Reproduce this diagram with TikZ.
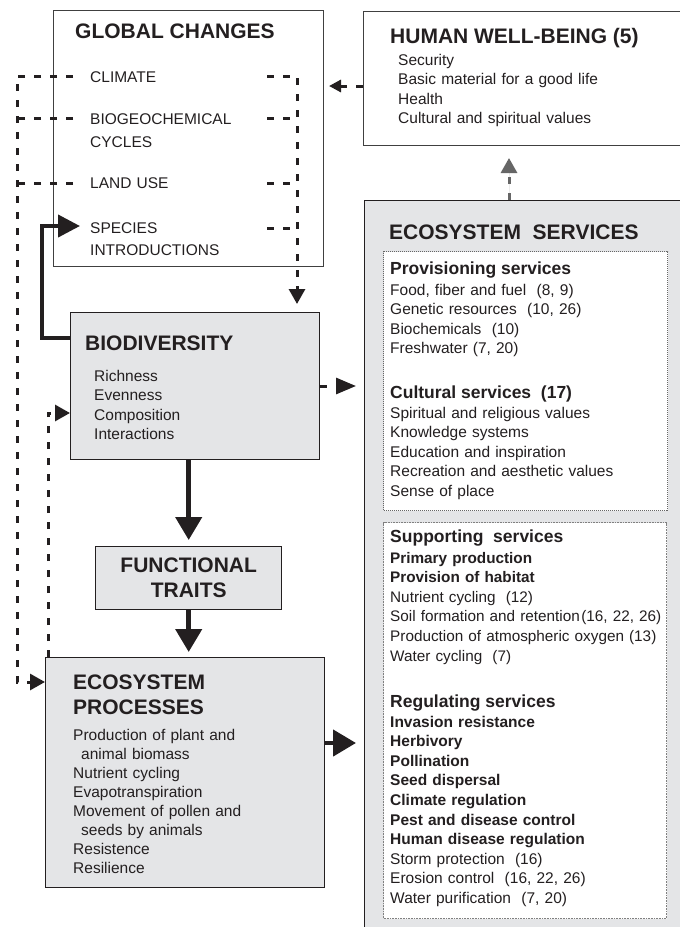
\documentclass[tikz,border=0pt]{standalone}
\usepackage{fontspec}
\setmainfont{Liberation Sans}
\usepackage{xcolor}
\usetikzlibrary{arrows.meta}
\definecolor{boxgray}{HTML}{E4E5E7}
\definecolor{ink}{HTML}{231F20}
\newcommand{\bt}[1]{{\bfseries #1}}

\begin{document}
\begin{tikzpicture}[x=1pt,y=-1pt]
  \tikzset{box/.style={rectangle,draw=black!75,line width=1pt,anchor=north west,inner sep=0pt}}
  \tikzset{shade/.style={box,draw=ink,fill=boxgray,line width=1.4pt}}
  \tikzset{head/.style={anchor=base west,inner sep=0pt,text=ink,font=\fontsize{21}{25}\selectfont\bfseries}}
  \tikzset{sub/.style={anchor=base west,inner sep=0pt,text=ink,font=\fontsize{17.5}{21}\selectfont\bfseries}}
  \tikzset{txt/.style={anchor=base west,inner sep=0pt,align=left,text width=285pt,text=ink,font=\fontsize{15.5}{19.6}\selectfont}}
  \tikzset{dline/.style={draw=ink,line width=3pt,dash pattern=on 7pt off 9pt}}
  \tikzset{dasharrow/.style={dline,-{Triangle[length=15pt,width=16pt]}}}
  \tikzset{bigarrow/.style={draw=ink,line width=4.5pt,-{Triangle[length=23pt,width=26pt]}}}
  \tikzset{grayarrow/.style={dasharrow,draw=black!60,fill=black!60}}

  \useasboundingbox (0,0) rectangle (680,927);

  \node[box,minimum width=270pt,minimum height=256pt] (gc) at (53,10) {};
  \node[box,minimum width=325pt,minimum height=134pt] (hwb) at (363,11) {};
  \node[shade,minimum width=330pt,minimum height=740pt] (es) at (364,200) {};
  \node[box,fill=white,draw=black!60,densely dotted,minimum width=284pt,minimum height=259pt] (prov) at (383,251) {};
  \node[box,fill=white,draw=black!50,dash pattern=on 1pt off 0.6pt,minimum width=283pt,minimum height=396pt] (supp) at (383,522) {};
  \node[shade,minimum width=249pt,minimum height=147pt] (bd) at (70,312) {};
  \node[shade,minimum width=186pt,minimum height=63pt] (ft) at (95,546) {};
  \node[shade,minimum width=279pt,minimum height=230pt] (ep) at (45,657) {};

  \node[head] (gchead) at (75,38) {GLOBAL CHANGES};
  \node[txt] (gcclim) at (90,82) {CLIMATE};
  \node[txt,font=\fontsize{15.5}{23}\selectfont] (gcbio) at (90,124) {BIOGEOCHEMICAL\\CYCLES};
  \node[txt] (gcland) at (90,188) {LAND USE};
  \node[txt,font=\fontsize{15.5}{22}\selectfont] (gcspec) at (90,233) {SPECIES\\INTRODUCTIONS};

  \node[head] (hwbhead) at (390,43) {HUMAN WELL-BEING (5)};
  \node[txt] (hwbtxt) at (398,65) {Security\\Basic material for a good life\\Health\\Cultural and spiritual values};

  \node[head] (eshead) at (389,239) {ECOSYSTEM\ \ SERVICES};
  \node[sub] (provhead) at (390,274) {Provisioning services};
  \node[txt] (provtxt) at (390,295) {Food, fiber and fuel\ \ (8, 9)\\Genetic resources\ \ (10, 26)\\Biochemicals\ \ (10)\\Freshwater (7, 20)};
  \node[sub] (culthead) at (390,398) {Cultural services\ \ (17)};
  \node[txt] (culttxt) at (390,418) {Spiritual and religious values\\Knowledge systems\\Education and inspiration\\Recreation and aesthetic values\\Sense of place};
  \node[sub] (supphead) at (390,542) {Supporting\ \ services};
  \node[txt,font=\fontsize{15.3}{19.6}\selectfont] (supptxt) at (390,563) {\bt{Primary production}\\\bt{Provision of habitat}\\Nutrient cycling\ \ (12)\\Soil formation and retention\hspace{1.5pt}(16, 22, 26)\\Production of atmospheric oxygen (13)\\Water cycling\ \ (7)};
  \node[sub] (reghead) at (390,707) {Regulating services};
  \node[txt] (regtxt) at (390,727) {\bt{Invasion resistance}\\\bt{Herbivory}\\\bt{Pollination}\\\bt{Seed dispersal}\\\bt{Climate regulation}\\\bt{Pest and disease control}\\\bt{Human disease regulation}\\Storm protection\ \ (16)\\Erosion control\ \ (16, 22, 26)\\Water purification\ \ (7, 20)};

  \node[head] (bdhead) at (85,350) {BIODIVERSITY};
  \node[txt] (bdtxt) at (94,381) {Richness\\Evenness\\Composition\\Interactions};
  \node[head,align=center,anchor=center] (fthead) at (ft.center) {FUNCTIONAL\\TRAITS};
  \node[head,align=left,text width=240pt] (ephead) at (73,689) {ECOSYSTEM\\PROCESSES};
  \node[txt,font=\fontsize{15.5}{19.1}\selectfont] (eptxt) at (73,740) {Production of plant and\\\hspace*{8pt}animal biomass\\Nutrient cycling\\Evapotranspiration\\Movement of pollen and\\\hspace*{8pt}seeds by animals\\Resistence\\Resilience};

  \coordinate (climL) at (73,76);
  \coordinate (bioL) at (73,118);
  \coordinate (landL) at (73,183);
  \coordinate (climR) at (267,76);
  \coordinate (bioR) at (267,118);
  \coordinate (landR) at (267,183);
  \coordinate (specR) at (267,228);
  \coordinate (specin) at (80,226);
  \coordinate (lrail) at (17,682);
  \coordinate (rrail) at (297,304);
  \coordinate (epin) at ([yshift=-25pt]ep.north west);
  \coordinate (epfb) at ([xshift=3pt]ep.north west);
  \coordinate (bdfb) at ([yshift=-101pt]bd.north west);
  \coordinate (bdsp) at ([yshift=-26pt]bd.north west);
  \coordinate (bdR) at ([yshift=-74pt]bd.north east);
  \coordinate (epR) at ([yshift=-86pt]ep.north east);
  \coordinate (hwbL) at ([yshift=-75pt]hwb.north west);
  \coordinate (esup) at (es.north -| 509,0);

  \draw[dasharrow] (climL) -| (lrail) -- (epin);
  \draw[dline] (bioL) -- (bioL -| lrail);
  \draw[dline] (landL) -- (landL -| lrail);
  \draw[dasharrow] (climR) -| (rrail);
  \draw[dline] (bioR) -- (bioR -| rrail);
  \draw[dline] (landR) -- (landR -| rrail);
  \draw[dline] (specR) -- (specR -| rrail);
  \draw[draw=ink,line width=4pt,-{Triangle[length=22pt,width=22pt]}] (bdsp) -| (42,226) -- (specin);
  \draw[dasharrow] (epfb) |- (bdfb);
  \draw[dasharrow,shorten >=8pt,-{Triangle[length=20pt,width=16pt]}] (bdR) -- (bdR -| es.west);
  \draw[bigarrow,shorten >=6pt] (ft.north |- bd.south) -- (ft.north);
  \draw[bigarrow,shorten >=5pt] (ft.south) -- (ft.south |- ep.north);
  \draw[bigarrow,shorten >=8pt] (epR) -- (epR -| es.west);
  \draw[dasharrow,shorten >=5pt,-{Triangle[length=12pt,width=12pt]}] (hwbL) -- (hwbL -| gc.east);
  \draw[grayarrow,shorten >=12pt] (esup) -- (esup |- hwb.south);
\end{tikzpicture}
\end{document}
